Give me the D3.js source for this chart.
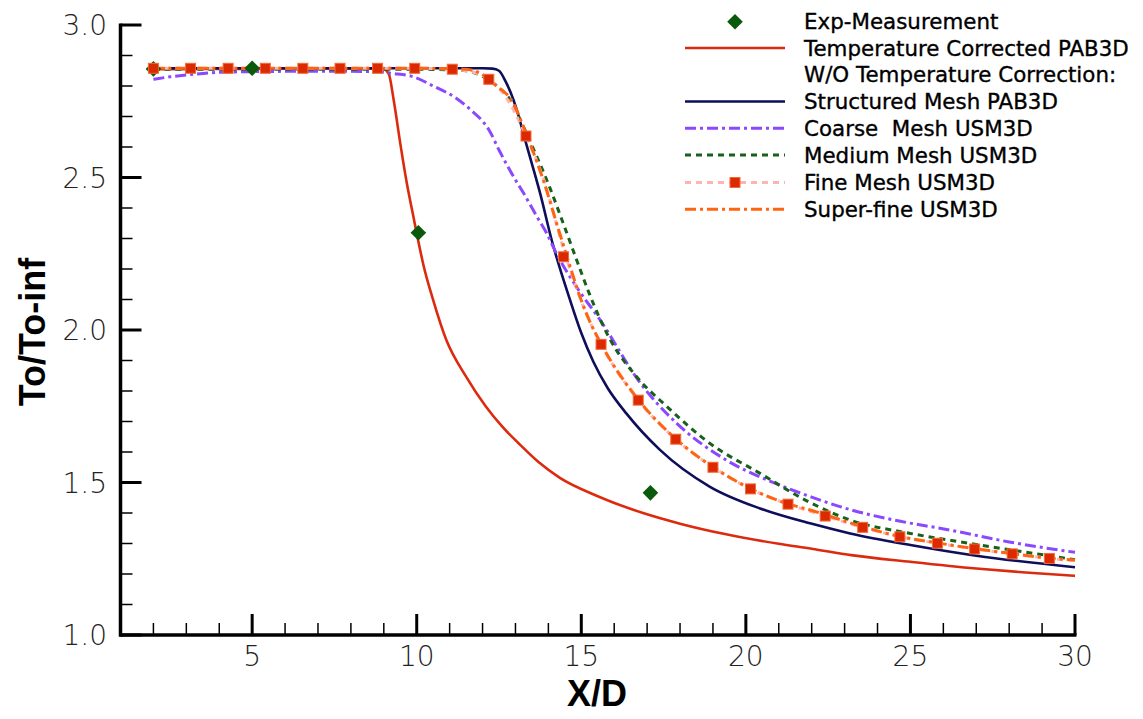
<!DOCTYPE html>
<html>
<head>
<meta charset="utf-8">
<script src="https://cdn.jsdelivr.net/npm/d3@7/dist/d3.min.js"></script>
<style>
  html, body { margin: 0; padding: 0; background: #fff; }
  svg { display: block; }
  .legtext { white-space: pre; }
</style>
</head>
<body>
<svg id="chart" width="1143" height="719"></svg>
<script>
// ---------------- DATA ----------------
const xTicksMajor = [5, 10, 15, 20, 25, 30];
const yTicksMajor = [1.0, 1.5, 2.0, 2.5, 3.0];
const xTickLabels = ["5", "10", "15", "20", "25", "30"];
const yTickLabels = ["1.0", "1.5", "2.0", "2.5", "3.0"];

const seriesNames = [
  "Exp-Measurement",
  "Temperature Corrected PAB3D",
  "W/O Temperature Correction:",
  "Structured Mesh PAB3D",
  "Coarse  Mesh USM3D",
  "Medium Mesh USM3D",
  "Fine Mesh USM3D",
  "Super-fine USM3D"
];

const expX = [2.0, 5.0, 10.05, 17.1];
const expY = [2.856, 2.858, 2.319, 1.466];

const redX = [2, 3, 4, 5, 6, 7, 8, 8.6, 9.0, 9.15, 9.3, 9.5, 9.7, 9.9, 10.05, 10.2, 10.5, 10.9, 11.5, 12.1, 12.6, 13.1, 13.7, 14.35, 15.5, 16.9, 18, 19.4, 21, 22, 23.2, 25, 27, 28.5, 30];
const redY = [2.855, 2.855, 2.856, 2.856, 2.857, 2.857, 2.857, 2.857, 2.855, 2.84, 2.754, 2.612, 2.481, 2.371, 2.29, 2.215, 2.098, 1.967, 1.847, 1.749, 1.683, 1.628, 1.567, 1.515, 1.455, 1.399, 1.365, 1.330, 1.299, 1.283, 1.262, 1.240, 1.218, 1.205, 1.194];

const navyX = [2, 4, 6, 8, 10, 11, 12, 12.3, 12.5, 12.7, 12.94, 13.1, 13.25, 13.5, 13.75, 14.1, 14.66, 15.0, 15.37, 15.8, 16.38, 17.39, 18.91, 20.43, 21.95, 23.17, 25, 27, 30];
const navyY = [2.858, 2.858, 2.858, 2.858, 2.858, 2.858, 2.858, 2.857, 2.85, 2.815, 2.754, 2.70, 2.64, 2.545, 2.448, 2.295, 2.098, 1.99, 1.895, 1.81, 1.725, 1.607, 1.486, 1.415, 1.366, 1.333, 1.295, 1.260, 1.222];

const coarseX = [2, 2.5, 3, 4, 5, 6, 7, 8, 8.9, 9.2, 9.9, 10.5, 11.2, 11.7, 12.0, 12.2, 12.5, 12.94, 13.25, 13.65, 13.95, 14.25, 14.85, 15.57, 16.8, 17.9, 19.4, 20.9, 22, 23.2, 24.5, 26.2, 28, 30];
const coarseY = [2.822, 2.83, 2.836, 2.845, 2.847, 2.848, 2.848, 2.848, 2.847, 2.842, 2.83, 2.80, 2.76, 2.716, 2.685, 2.655, 2.59, 2.503, 2.448, 2.372, 2.317, 2.25, 2.142, 2.033, 1.825, 1.694, 1.574, 1.497, 1.452, 1.41, 1.377, 1.344, 1.305, 1.271];

const mediumX = [2, 4, 6, 8, 10, 11, 11.5, 11.92, 12.32, 12.6, 12.84, 13.14, 13.54, 14.05, 14.45, 14.96, 15.24, 15.87, 16.68, 17.6, 18.91, 20.43, 21.85, 23.17, 25, 27, 30];
const mediumY = [2.855, 2.855, 2.855, 2.855, 2.855, 2.853, 2.85, 2.836, 2.81, 2.785, 2.755, 2.69, 2.595, 2.465, 2.35, 2.20, 2.12, 1.97, 1.847, 1.749, 1.628, 1.53, 1.44, 1.377, 1.333, 1.297, 1.247];

const fineLineX = [2, 3.13, 4.27, 5.40, 6.54, 7.67, 8.81, 9.94, 11.08, 11.6, 12.19, 12.7, 13.32, 13.9, 14.46, 15.0, 15.3, 15.6, 16.73, 17.87, 19.0, 20.14, 21.28, 22.41, 23.55, 24.68, 25.82, 26.95, 28.09, 29.22, 30];
const fineLineY = [2.858, 2.858, 2.858, 2.858, 2.858, 2.858, 2.858, 2.858, 2.855, 2.848, 2.822, 2.765, 2.636, 2.48, 2.265, 2.095, 2.018, 1.953, 1.770, 1.642, 1.550, 1.479, 1.429, 1.390, 1.353, 1.322, 1.301, 1.282, 1.266, 1.251, 1.244];

const fineMarkX = [2.0, 3.13, 4.27, 5.40, 6.54, 7.67, 8.81, 9.94, 11.08, 12.19, 13.32, 14.46, 15.60, 16.73, 17.87, 19.00, 20.14, 21.28, 22.41, 23.55, 24.68, 25.82, 26.95, 28.09, 29.22];
const fineMarkY = [2.858, 2.858, 2.858, 2.858, 2.858, 2.858, 2.858, 2.858, 2.855, 2.822, 2.636, 2.24, 1.953, 1.770, 1.642, 1.550, 1.479, 1.429, 1.390, 1.353, 1.322, 1.301, 1.282, 1.266, 1.251];

const superX = [2, 4, 6, 8, 10, 11, 11.5, 11.92, 12.43, 12.94, 13.24, 13.44, 13.85, 14.25, 14.66, 14.96, 15.25, 15.6, 16.73, 17.87, 19.0, 20.14, 21.28, 21.95, 23.55, 24.68, 25.82, 26.95, 28.09, 29.22, 30];
const superY = [2.858, 2.858, 2.858, 2.858, 2.858, 2.857, 2.855, 2.842, 2.80, 2.743, 2.667, 2.612, 2.49, 2.35, 2.208, 2.109, 2.03, 1.955, 1.772, 1.643, 1.551, 1.48, 1.43, 1.41, 1.355, 1.323, 1.302, 1.283, 1.267, 1.252, 1.246];

// ---------------- CHART ----------------
const svg = d3.select("#chart");
const x = d3.scaleLinear().domain([1, 30]).range([120.5, 1075]);
const y = d3.scaleLinear().domain([1, 3]).range([635, 25]);

const zip = (xs, ys) => xs.map((v, i) => [v, ys[i]]);
const line = d3.line().x(d => x(d[0])).y(d => y(d[1])).curve(d3.curveMonotoneX);

const styles = {
  red:    { stroke: "#dc2a0e", width: 2.6, dash: null },
  navy:   { stroke: "#0e0e5a", width: 2.6, dash: null },
  coarse: { stroke: "#8a48ff", width: 3, dash: "11,4,3,4" },
  medium: { stroke: "#17611a", width: 3, dash: "6,5" },
  fine:   { stroke: "#ffb4b4", width: 3, dash: "6,5" },
  sup:    { stroke: "#ff6410", width: 3, dash: "11,4,3,4" }
};

const plot = svg.append("g");
function drawLine(data, st) {
  plot.append("path")
    .datum(data)
    .attr("fill", "none")
    .attr("stroke", st.stroke)
    .attr("stroke-width", st.width)
    .attr("stroke-dasharray", st.dash)
    .attr("d", line);
}
drawLine(zip(redX, redY), styles.red);
drawLine(zip(navyX, navyY), styles.navy);
drawLine(zip(coarseX, coarseY), styles.coarse);
drawLine(zip(mediumX, mediumY), styles.medium);
drawLine(zip(fineLineX, fineLineY), styles.fine);
drawLine(zip(superX, superY), styles.sup);

const diamond = d3.symbol().type(d3.symbolDiamond2).size(155);
plot.selectAll(".exp").data(zip(expX, expY)).join("path")
  .attr("transform", d => `translate(${x(d[0])},${y(d[1])})`)
  .attr("d", diamond)
  .attr("fill", "#0b5a0b");

plot.selectAll(".fm").data(zip(fineMarkX, fineMarkY)).join("rect")
  .attr("x", d => x(d[0]) - 5)
  .attr("y", d => y(d[1]) - 5)
  .attr("width", 10).attr("height", 10)
  .attr("fill", "#dc2a00")
  .attr("stroke", "#f36a3a")
  .attr("stroke-width", 1);

// ---------------- AXES ----------------
const axes = svg.append("g");
const xMinor = d3.range(2, 30, 1).filter(v => v % 5 !== 0);
const yMinor = d3.range(11, 30, 1).map(v => v / 10).filter(v => Math.round(v * 10) % 5 !== 0);

axes.selectAll(".xmin").data(xMinor).join("line")
  .attr("x1", d => x(d)).attr("x2", d => x(d))
  .attr("y1", 635).attr("y2", 623)
  .attr("stroke", "#000").attr("stroke-width", 1.5);
axes.selectAll(".ymin").data(yMinor).join("line")
  .attr("y1", d => y(d)).attr("y2", d => y(d))
  .attr("x1", x(1)).attr("x2", x(1) + 12)
  .attr("stroke", "#000").attr("stroke-width", 1.5);
axes.selectAll(".xmaj").data(xTicksMajor).join("line")
  .attr("x1", d => x(d)).attr("x2", d => x(d))
  .attr("y1", 635).attr("y2", 614)
  .attr("stroke", "#000").attr("stroke-width", 3);
axes.selectAll(".ymaj").data(yTicksMajor).join("line")
  .attr("y1", d => y(d)).attr("y2", d => y(d))
  .attr("x1", x(1)).attr("x2", x(1) + 21)
  .attr("stroke", "#000").attr("stroke-width", 3);
axes.append("line").attr("x1", x(1)).attr("x2", x(30) + 1.5).attr("y1", 635).attr("y2", 635)
  .attr("stroke", "#000").attr("stroke-width", 3.5);
axes.append("line").attr("x1", x(1)).attr("x2", x(1)).attr("y1", y(3) - 1.5).attr("y2", 636.75)
  .attr("stroke", "#000").attr("stroke-width", 3.5);

const tickFont = "'DejaVu Sans', sans-serif";
axes.selectAll(".xl").data(xTicksMajor).join("text")
  .attr("x", d => x(d)).attr("y", 666)
  .attr("text-anchor", "middle")
  .attr("font-family", tickFont).attr("font-weight", 200).attr("font-size", 28)
  .attr("fill", "#222")
  .text((d, i) => xTickLabels[i]);
axes.selectAll(".yl").data(yTicksMajor).join("text")
  .attr("x", 107).attr("y", d => y(d) + 10)
  .attr("text-anchor", "end")
  .attr("font-family", tickFont).attr("font-weight", 200).attr("font-size", 28)
  .attr("fill", "#222")
  .text((d, i) => yTickLabels[i]);

// axis titles
svg.append("text").attr("x", 597).attr("y", 706)
  .attr("text-anchor", "middle")
  .attr("font-family", "'Liberation Sans', Arial, sans-serif").attr("font-weight", "bold").attr("font-size", 36)
  .text("X/D");
svg.append("text")
  .attr("transform", "translate(45,332) rotate(-90)")
  .attr("text-anchor", "middle")
  .attr("font-family", "'Liberation Sans', Arial, sans-serif").attr("font-weight", "bold").attr("font-size", 36)
  .text("To/To-inf");

// ---------------- LEGEND ----------------
const leg = svg.append("g");
const legRowY = [21.7, 48, 74.5, 101.5, 128.3, 155, 182.5, 209.3];
const lx1 = 685, lx2 = 785, ltx = 804;
seriesNames.forEach((name, i) => {
  leg.append("text").attr("class", "legtext")
    .attr("x", ltx).attr("y", legRowY[i] + 7.5)
    .attr("font-family", "'DejaVu Sans', sans-serif").attr("font-size", 21.4)
    .attr("fill", "#000").attr("stroke", "#000").attr("stroke-width", 0.35)
    .text(name);
});
function legLine(i, st) {
  leg.append("line").attr("x1", lx1).attr("x2", lx2)
    .attr("y1", legRowY[i]).attr("y2", legRowY[i])
    .attr("stroke", st.stroke).attr("stroke-width", st.width)
    .attr("stroke-dasharray", st.dash);
}
leg.append("path").attr("transform", `translate(${(lx1 + lx2) / 2},${legRowY[0]})`)
  .attr("d", diamond).attr("fill", "#0b5a0b");
legLine(1, styles.red);
legLine(3, styles.navy);
legLine(4, styles.coarse);
legLine(5, styles.medium);
legLine(6, styles.fine);
leg.append("rect").attr("x", (lx1 + lx2) / 2 - 5).attr("y", legRowY[6] - 5)
  .attr("width", 10).attr("height", 10)
  .attr("fill", "#dc2a00").attr("stroke", "#f36a3a").attr("stroke-width", 1);
legLine(7, styles.sup);
</script>
</body>
</html>
